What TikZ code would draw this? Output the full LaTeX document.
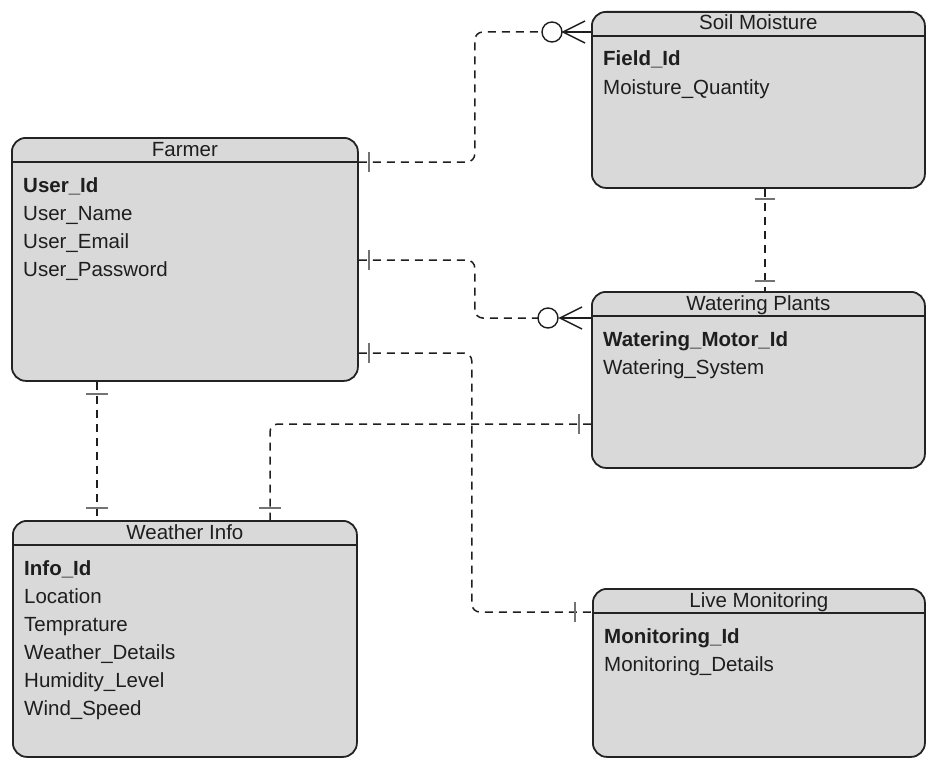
\documentclass[tikz,border=0pt]{standalone}
\usepackage{fontspec}
\setmainfont{Liberation Sans}
\usetikzlibrary{calc}

\definecolor{entfill}{RGB}{217,217,217}
\definecolor{entline}{RGB}{35,35,35}
\definecolor{ink}{RGB}{30,30,30}
\definecolor{tickgray}{RGB}{115,115,115}

% one ER table: name, left, top, width, height, title, key attribute
\newcommand{\erentity}[7]{%
  \node[entity, minimum width=#4pt, minimum height=#5pt] (#1) at (#2,#3) {};
  \draw[headline] ([yshift=-25pt]#1.north west) -- ([yshift=-25pt]#1.north east);
  \node[title] (#1-title) at ([yshift=-19pt]#1.north) {#6};
  \node[keyattr] (#1-a0) at ([xshift=12pt,yshift=-55pt]#1.north west) {#7};
}

\begin{document}
\begin{tikzpicture}[x=1pt,y=-1pt,
  entity/.style={draw=entline, fill=entfill, line width=1.8pt,
    rounded corners=14pt, anchor=north west, inner sep=0pt},
  headline/.style={draw=entline, line width=1.8pt},
  title/.style={anchor=base, text=ink, inner sep=0pt,
    font=\fontsize{20.5}{24}\selectfont},
  attr/.style={anchor=base west, text=ink, inner sep=0pt,
    font=\fontsize{20.5}{24}\selectfont},
  keyattr/.style={attr, font=\fontsize{20.5}{24}\selectfont\bfseries},
  rel/.style={draw=ink, line width=1.5pt, dash pattern=on 8pt off 6pt,
    rounded corners=8pt},
  onemark/.style={draw=tickgray, line width=2.5pt},
  foot/.style={draw=ink, line width=1.4pt},
]
\useasboundingbox (0,0) rectangle (926,760);

% ---------- tables ----------
\erentity{farmer}{11}{137}{346}{243}{Farmer}{User\_Id}
\node[attr] (farmer-a1) at ([yshift=-28pt]farmer-a0.base west) {User\_Name};
\node[attr] (farmer-a2) at ([yshift=-28pt]farmer-a1.base west) {User\_Email};
\node[attr] (farmer-a3) at ([yshift=-28pt]farmer-a2.base west) {User\_Password};

\erentity{soil}{591}{11}{333}{176}{Soil Moisture}{Field\_Id}
\node[attr] (soil-a1) at ([yshift=-28pt]soil-a0.base west) {Moisture\_Quantity};

\erentity{water}{591}{291}{333}{176}{Watering Plants}{Watering\_Motor\_Id}
\node[attr] (water-a1) at ([yshift=-28pt]water-a0.base west) {Watering\_System};

\erentity{weather}{12}{520}{344}{236}{Weather Info}{Info\_Id}
\node[attr] (weather-a1) at ([yshift=-28pt]weather-a0.base west) {Location};
\node[attr] (weather-a2) at ([yshift=-28pt]weather-a1.base west) {Temprature};
\node[attr] (weather-a3) at ([yshift=-28pt]weather-a2.base west) {Weather\_Details};
\node[attr] (weather-a4) at ([yshift=-28pt]weather-a3.base west) {Humidity\_Level};
\node[attr] (weather-a5) at ([yshift=-28pt]weather-a4.base west) {Wind\_Speed};

\erentity{live}{592}{588}{332}{168}{Live Monitoring}{Monitoring\_Id}
\node[attr] (live-a1) at ([yshift=-28pt]live-a0.base west) {Monitoring\_Details};

% ---------- relationship anchors ----------
\coordinate (f1) at ($(farmer.north east)+(0,25)$);
\coordinate (f2) at ($(farmer.north east)+(0,123)$);
\coordinate (f3) at ($(farmer.north east)+(0,216)$);
\coordinate (fb) at ($(farmer.south west)+(86,0)$);
\coordinate (c1) at ($(soil.north west)+(-39,21)$);
\coordinate (c2) at ($(water.north west)+(-43,27)$);
\coordinate (sb) at ($(soil.south west)+(174,0)$);
\coordinate (wl) at ($(water.north west)+(0,133)$);
\coordinate (lt) at ($(live.north west)+(0,24)$);
\coordinate (wt) at ($(weather.north west)+(258,0)$);

% ---------- relationship lines ----------
\draw[rel] (f1) -- ++(116,0) |- ([xshift=-10pt]c1);
\draw[rel] (f2) -- ++(116,0) |- ([xshift=-10pt]c2);
\draw[rel] (f3) -- ++(113,0) |- (lt);
\draw[rel] (wl) -| (wt);
\draw[rel] (fb) -- (fb |- weather.north);
\draw[rel] (sb) -- (sb |- water.north);

% ---------- zero-or-many ends ----------
\draw[foot, fill=white] (c1) circle[radius=10pt];
\draw[foot] ($(c1)+(33,-11)$) -- ($(c1)+(11,0)$) -- ($(c1)+(33,11)$);
\draw[foot] ($(c1)+(11,0)$) -- (c1 -| soil.west);
\draw[foot, fill=white] (c2) circle[radius=10pt];
\draw[foot] ($(c2)+(34,-11)$) -- ($(c2)+(12,0)$) -- ($(c2)+(34,11)$);
\draw[foot] ($(c2)+(12,0)$) -- (c2 -| water.west);

% ---------- exactly-one ends ----------
\draw[onemark] ($(f1)+(10,-10)$) -- ++(0,20);
\draw[onemark] ($(f2)+(10,-10)$) -- ++(0,20);
\draw[onemark] ($(f3)+(10,-10)$) -- ++(0,20);
\draw[onemark] ($(lt)+(-17,-10)$) -- ++(0,20);
\draw[onemark] ($(wl)+(-12,-10)$) -- ++(0,20);
\draw[onemark] ($(wt)+(-11,-12)$) -- ++(22,0);
\draw[onemark] ($(fb)+(-11,12)$) -- ++(22,0);
\draw[onemark] ($(fb |- weather.north)+(-11,-12)$) -- ++(22,0);
\draw[onemark] ($(sb)+(-10,10)$) -- ++(20,0);
\draw[onemark] ($(sb |- water.north)+(-10,-10)$) -- ++(20,0);
\end{tikzpicture}
\end{document}
